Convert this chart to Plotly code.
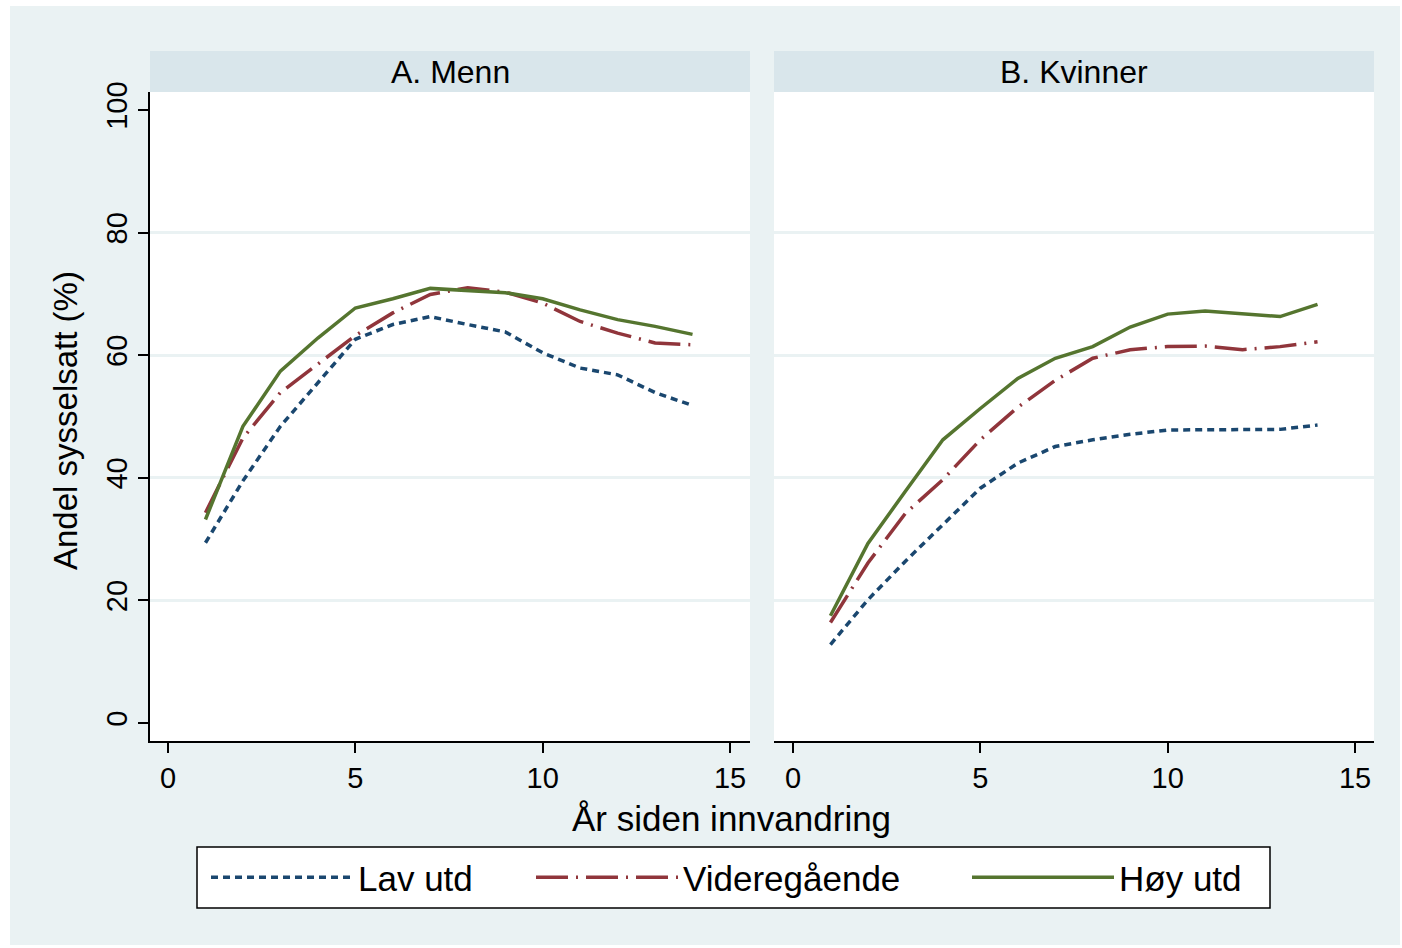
import plotly.graph_objects as go

# ---- data ----
years = list(range(1, 15))

menn_lav = [29.4, 39.5, 48.4, 55.5, 62.6, 65.0, 66.3, 65.0, 63.8, 60.4, 57.9, 56.8, 53.9, 51.8]
menn_vgs = [34.3, 46.5, 53.9, 58.5, 63.2, 66.9, 69.9, 71.0, 70.3, 68.5, 65.5, 63.6, 62.0, 61.7]
menn_hoy = [33.2, 48.4, 57.4, 62.8, 67.7, 69.2, 70.9, 70.6, 70.2, 69.2, 67.4, 65.8, 64.7, 63.4]

kvinner_lav = [12.8, 20.1, 26.4, 32.3, 38.3, 42.4, 45.1, 46.2, 47.1, 47.8, 47.8, 47.8, 47.9, 48.6]
kvinner_vgs = [16.4, 26.1, 34.2, 39.7, 46.2, 51.5, 55.9, 59.5, 60.9, 61.4, 61.5, 60.9, 61.4, 62.2]
kvinner_hoy = [17.5, 29.3, 37.8, 46.2, 51.3, 56.2, 59.5, 61.4, 64.6, 66.7, 67.2, 66.7, 66.3, 68.3]

series_names = ["Lav utd", "Videregående", "Høy utd"]
panel_titles = ["A. Menn", "B. Kvinner"]
x_ticks = [0, 5, 10, 15]
y_ticks = [0, 20, 40, 60, 80, 100]
y_grid = [20, 40, 60, 80]
x_title = "År siden innvandring"
y_title = "Andel sysselsatt (%)"

# ---- styles ----
W, H = 1402, 948
FONT = "Liberation Sans, Arial, Helvetica, sans-serif"
colors = ["#1a476f", "#90353b", "#55752f"]
dashes = ["7px,5px", "32px,8px,2px,8px", "solid"]
BG = "#eaf2f3"
STRIP = "#d9e6eb"

def px(x):
    return x / W

def py(y):
    return 1 - y / H

# panel pixel geometry
A_left, A_right = 150, 750
B_left, B_right = 774, 1374
P_top, P_bot = 92, 741
strip_top = 51

# y range: 0 at 723px, 100 at 110px
ppu_y = (723 - 110) / 100
y_rng = [-(P_bot - 723) / ppu_y, 100 + (110 - P_top) / ppu_y]
# x range: 0 at 168px, 15 at 730px
ppu_x = (730 - 168) / 15
xA_rng = [-(168 - A_left) / ppu_x, 15 + (A_right - 730) / ppu_x]
xB_rng = [-(793 - B_left) / ppu_x, 15 + (B_right - 1355) / ppu_x]

# legend geometry (one legend per series, inside one frame)
leg_box = (197, 1270, 847, 908)
leg_item_x = [206, 531, 967]
leg_names = ["legend", "legend2", "legend3"]

fig = go.Figure()

panels = [
    ("x", "y", [menn_lav, menn_vgs, menn_hoy]),
    ("x2", "y2", [kvinner_lav, kvinner_vgs, kvinner_hoy]),
]
for pi, (xa, ya, data) in enumerate(panels):
    for si, vals in enumerate(data):
        fig.add_trace(go.Scatter(
            x=years, y=vals, mode="lines", xaxis=xa, yaxis=ya,
            name=series_names[si], legendgroup=series_names[si],
            legend=leg_names[si],
            showlegend=(pi == 0),
            line=dict(color=colors[si], width=3.5, dash=dashes[si]),
        ))

axis_common = dict(
    showgrid=False, zeroline=False, showline=True, linecolor="black",
    linewidth=1.5, ticks="outside", ticklen=10, tickwidth=1.5, automargin=False,
    tickcolor="black", tickfont=dict(family=FONT, size=29, color="black"),
)

legend_common = dict(
    orientation="h", xanchor="left", yanchor="middle",
    y=py((leg_box[2] + leg_box[3]) / 2),
    bgcolor="rgba(0,0,0,0)", borderwidth=0,
    font=dict(family=FONT, size=35, color="black"),
    itemwidth=142,
)

fig.update_layout(
    width=W, height=H,
    margin=dict(l=0, r=0, t=0, b=0, pad=0, autoexpand=False),
    paper_bgcolor="white",
    plot_bgcolor="rgba(0,0,0,0)",
    font=dict(family=FONT, color="black"),
    xaxis=dict(domain=[px(A_left), px(A_right)], range=xA_rng, tickvals=x_ticks,
               anchor="y", **axis_common),
    xaxis2=dict(domain=[px(B_left), px(B_right)], range=xB_rng, tickvals=x_ticks,
                anchor="y2", **axis_common),
    yaxis=dict(domain=[py(P_bot), py(P_top)], range=y_rng, tickvals=y_ticks,
               tickangle=-90, anchor="x",
               minor=dict(tickvals=y_grid, showgrid=True, gridcolor=BG, gridwidth=3, ticks=""),
               **axis_common),
    yaxis2=dict(domain=[py(P_bot), py(P_top)], range=y_rng, tickvals=y_ticks,
                anchor="x2", showticklabels=False, showline=False, ticks="",
                showgrid=False, zeroline=False, automargin=False,
                minor=dict(tickvals=y_grid, showgrid=True, gridcolor=BG, gridwidth=3, ticks="")),
    legend=dict(x=px(leg_item_x[0]), **legend_common),
    legend2=dict(x=px(leg_item_x[1]), **legend_common),
    legend3=dict(x=px(leg_item_x[2]), **legend_common),
)

shapes = [
    dict(type="rect", xref="paper", yref="paper", x0=px(10), x1=px(1400), y0=py(945), y1=py(6),
         fillcolor=BG, line=dict(width=0), layer="below"),
]
for (l, r) in [(A_left, A_right), (B_left, B_right)]:
    shapes.append(dict(type="rect", xref="paper", yref="paper", x0=px(l), x1=px(r),
                       y0=py(P_bot), y1=py(P_top), fillcolor="white",
                       line=dict(width=0), layer="below"))
    shapes.append(dict(type="rect", xref="paper", yref="paper", x0=px(l), x1=px(r),
                       y0=py(P_top), y1=py(strip_top), fillcolor=STRIP,
                       line=dict(width=0), layer="below"))
# legend frame
shapes.append(dict(type="rect", xref="paper", yref="paper",
                   x0=px(leg_box[0]), x1=px(leg_box[1]), y0=py(leg_box[3]), y1=py(leg_box[2]),
                   fillcolor="white", line=dict(color="black", width=1.5), layer="below"))
fig.update_layout(shapes=shapes)

annotations = []
for (l, r), t in zip([(A_left, A_right), (B_left, B_right)], panel_titles):
    annotations.append(dict(text=t, xref="paper", yref="paper", x=px((l + r) / 2),
                            y=py((strip_top + P_top) / 2), showarrow=False,
                            xanchor="center", yanchor="middle",
                            font=dict(family=FONT, size=32, color="black")))
annotations.append(dict(text=x_title, xref="paper", yref="paper", x=px(732), y=py(818),
                        showarrow=False, xanchor="center", yanchor="middle",
                        font=dict(family=FONT, size=35, color="black")))
annotations.append(dict(text=y_title, xref="paper", yref="paper", x=px(65), y=py(421),
                        showarrow=False, xanchor="center", yanchor="middle", textangle=-90,
                        font=dict(family=FONT, size=33, color="black")))
fig.update_layout(annotations=annotations)

fig.write_html(
    "out.html",
    config={"displayModeBar": False},
    post_script=(
        "var d=document.getElementById('{plot_id}');"
        "d.style.position='absolute';d.style.left='0px';d.style.top='0px';"
        "document.body.style.margin='0';document.body.style.overflow='hidden';"
    ),
)
